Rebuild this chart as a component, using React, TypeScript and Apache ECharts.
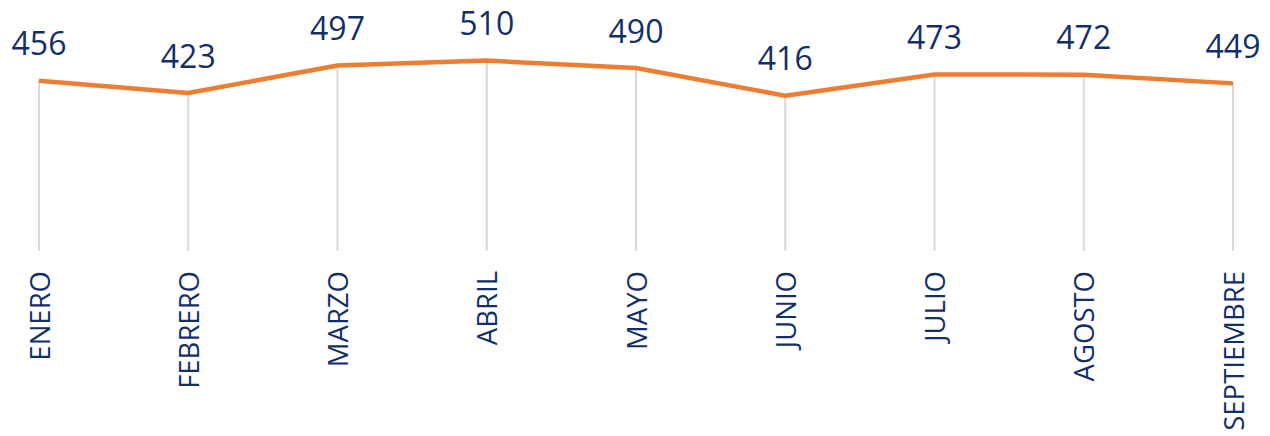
import React, { useEffect, useRef } from "react";
import * as echarts from "echarts";

const categories = ["ENERO", "FEBRERO", "MARZO", "ABRIL", "MAYO", "JUNIO", "JULIO", "AGOSTO", "SEPTIEMBRE"];
const values = [456, 423, 497, 510, 490, 416, 473, 472, 449];

export default function App() {
  const ref = useRef<HTMLDivElement>(null);
  useEffect(() => {
    if (!ref.current) return;
    const chart = echarts.init(ref.current, null, { renderer: "svg" });
    const navy = "#132f69";
    chart.setOption({
      animation: false,
      grid: { left: 39, right: 37, top: 27, bottom: 185, containLabel: false },
      xAxis: {
        type: "category",
        data: categories,
        boundaryGap: false,
        axisLine: { show: false },
        axisTick: { show: false },
        splitLine: { show: false },
        axisLabel: {
          rotate: 90,
          margin: 20,
          color: navy,
          fontSize: 27.5,
          fontFamily: "Open Sans",
        },
      },
      yAxis: { type: "value", min: 0, max: 600, show: false, splitLine: { show: false } },
      series: [
        {
          type: "bar",
          data: values,
          barWidth: 2,
          clip: false,
          itemStyle: { color: "#d9d9d9" },
          silent: true,
          z: 1,
          label: {
            show: true,
            position: "top",
            distance: 22,
            color: navy,
            fontSize: 32,
            fontFamily: "Open Sans",
          },
        },
        {
          type: "line",
          data: values,
          symbol: "none",
          z: 2,
          lineStyle: { color: "#ed7d31", width: 4.5 },
        },
      ],
    });
    return () => chart.dispose();
  }, []);
  return <div ref={ref} style={{ position: "absolute", left: 0, top: 0, width: 1270, height: 436 }} />;
}
